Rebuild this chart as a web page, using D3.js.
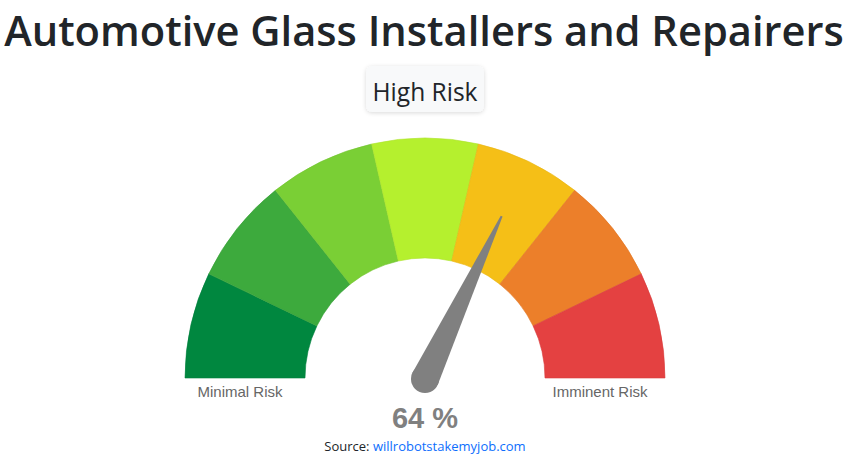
<!DOCTYPE html>
<html lang="en">
<head>
<meta charset="UTF-8">
<title>Automotive Glass Installers and Repairers</title>
<script src="https://d3js.org/d3.v7.min.js"></script>
<style>
    body { margin: 0; background: #fff; font-family: "Open Sans", "Noto Sans", sans-serif; }
    svg { display: block; }
</style>
</head>
<body>
<div id="chart"></div>
<script>
// Chart data
const title = 'Automotive Glass Installers and Repairers';
const riskLabel = 'High Risk';
const bandColors = ['#00873f', '#3daa3d', '#7acf35', '#b5f02e', '#f5bf17', '#ec7f2a', '#e44141'];
const endLabels = ['Minimal Risk', 'Imminent Risk'];
const value = 64;
const sourceText = 'Source: ';
const sourceLink = 'willrobotstakemyjob.com';

const W = 848, H = 465;
const cx = 425, cy = 378;
const outerR = 240, innerR = 120;

const svg = d3.select('#chart').append('svg')
    .attr('width', W)
    .attr('height', H);

// drop shadow for the label box
const defs = svg.append('defs');
const f = defs.append('filter').attr('id', 'shadow').attr('x', '-20%').attr('y', '-30%').attr('width', '140%').attr('height', '160%');
f.append('feDropShadow').attr('dx', 0).attr('dy', 1).attr('stdDeviation', 2).attr('flood-color', '#000').attr('flood-opacity', 0.15);

// title, fitted to page width
const t = svg.append('text')
    .attr('x', W / 2)
    .attr('y', 46)
    .attr('text-anchor', 'middle')
    .style('font-size', '40px')
    .style('font-weight', 600)
    .style('fill', '#212529')
    .text(title);
const tw = t.node().getComputedTextLength();
t.style('font-size', (40 * 840 / tw) + 'px');

// risk label box
const rb = svg.append('g');
const rbRect = rb.append('rect')
    .attr('rx', 6)
    .attr('fill', '#f8f9fa')
    .attr('filter', 'url(#shadow)');
const rbText = rb.append('text')
    .attr('x', 425)
    .attr('y', 101)
    .attr('text-anchor', 'middle')
    .style('font-size', '24px')
    .style('fill', '#212529')
    .text(riskLabel);
const rw = rbText.node().getComputedTextLength();
rbText.style('font-size', (24 * 105 / rw) + 'px');
rbRect.attr('x', 366).attr('y', 66).attr('width', 118).attr('height', 46);

// gauge
const angle = d3.scaleLinear().domain([0, 100]).range([-Math.PI / 2, Math.PI / 2]);
const band = d3.scaleBand().domain(d3.range(bandColors.length)).range([0, 100]);
const arc = d3.arc().innerRadius(innerR).outerRadius(outerR);

const g = svg.append('g').attr('transform', `translate(${cx},${cy})`);

g.selectAll('path.band')
    .data(bandColors)
  .enter().append('path')
    .attr('class', 'band')
    .attr('d', (d, i) => arc({ startAngle: angle(band(i)), endAngle: angle(band(i) + band.bandwidth()) }))
    .attr('fill', d => d)
    .attr('stroke', d => d3.color(d).darker(0.15))
    .attr('stroke-width', 0.6);

// needle
const a = angle(value);
const needleLen = 180, baseR = 14, tipW = 1;
const ux = Math.sin(a), uy = -Math.cos(a);
const px = -uy, py = ux;
const needle = [
    [px * baseR, py * baseR],
    [ux * needleLen + px * tipW, uy * needleLen + py * tipW],
    [ux * needleLen - px * tipW, uy * needleLen - py * tipW],
    [-px * baseR, -py * baseR]
];
const ng = g.append('g').attr('transform', 'translate(0,1)');
ng.append('path')
    .attr('d', d3.line()(needle) + 'Z')
    .attr('fill', '#808080');
ng.append('circle')
    .attr('r', baseR)
    .attr('fill', '#808080');

// end labels
const mid = (innerR + outerR) / 2;
svg.selectAll('text.end')
    .data(endLabels)
  .enter().append('text')
    .attr('class', 'end')
    .attr('x', (d, i) => i === 0 ? cx - mid - 5 : cx + mid - 5)
    .attr('y', 397)
    .attr('text-anchor', 'middle')
    .style('font-family', '"Liberation Sans", Arial, sans-serif')
    .style('font-size', '15px')
    .style('fill', '#666')
    .text(d => d);

// value
svg.append('text')
    .attr('x', cx)
    .attr('y', 428)
    .attr('text-anchor', 'middle')
    .style('font-family', '"Liberation Sans", Arial, sans-serif')
    .style('font-size', '29px')
    .style('font-weight', 'bold')
    .style('fill', '#808080')
    .text(value + ' %');

// source
const src = svg.append('text')
    .attr('x', cx)
    .attr('y', 451)
    .attr('text-anchor', 'middle')
    .style('font-size', '13px')
    .style('fill', '#212529');
src.append('tspan').text(sourceText);
src.append('tspan').style('fill', '#0d6efd').text(sourceLink);
</script>
</body>
</html>
